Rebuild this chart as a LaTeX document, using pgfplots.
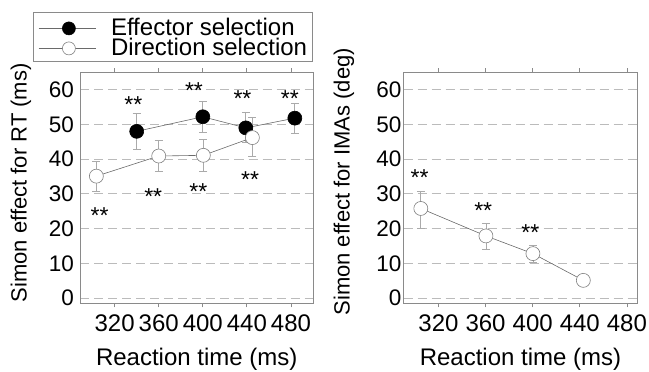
\documentclass[border=0pt]{standalone}
\usepackage{pgfplots}
\pgfplotsset{compat=1.18}
\usepackage{pgfplotstable}
\usepackage{fontspec}
\setmainfont{Liberation Sans}
\newcommand{\xf}{\fontsize{24}{26}\selectfont}
\newcommand{\yf}{\fontsize{22}{26}\selectfont}
\newcommand{\ytf}{\fontsize{22.5}{26}\selectfont}
\newcommand{\legf}{\fontsize{24}{24}\selectfont}
\newcommand{\starf}{\fontsize{23}{24}\selectfont}
\definecolor{gridc}{HTML}{BBBBBB}
\definecolor{framec}{HTML}{8A8A8A}
\definecolor{errc}{HTML}{AAAAAA}
\definecolor{linec}{HTML}{6A6A6A}

\pgfplotstableread{
x y ep em
340 48 5.3 5.2
400 52.2 4.3 4.4
439 49 4.4 4.2
483.5 51.8 4.2 4.3
}\effRT
\pgfplotstableread{
x y ep em
303.4 35.1 4.3 4.3
360 40.9 4.5 4.4
400.5 41.1 4.5 4.6
445 46.2 5.8 5.3
}\dirRT
\pgfplotstableread{
x y ep em
305 25.8 4.9 5.6
360.3 17.9 3.5 4.0
400.2 12.8 2.4 2.4
443 5.1 0 0
}\dirIMA

\pgfplotsset{simon/.style={
  scale only axis, height=231pt,
  ymin=-1.5, ymax=65,
  ytick={0,10,...,60}, xtick={320,360,...,480},
  axis line style={framec, line width=0.8pt},
  ymajorgrids, grid style={gridc, dash pattern=on 9pt off 5pt, line width=0.8pt},
  tick align=outside, xtick style={framec, line width=0.8pt}, ytick style={draw=none},
  major tick length=4pt,
  xticklabel style={font=\xf, yshift=-3.5pt},
  xlabel={Reaction time (ms)},
  xlabel style={font=\xf, at={(axis description cs:0.5,0)}, anchor=base, yshift=-62.7pt},
  ylabel style={font=\yf},
  /pgf/number format/assume math mode=true,
  /pgf/number format/1000 sep={},
  clip=false,
  error bars/y dir=both, error bars/y explicit,
  error bars/error bar style={errc, line width=0.8pt},
  error bars/error mark options={rotate=90, errc, mark size=4pt, line width=0.8pt},
}}

\begin{document}
\begin{tikzpicture}[x=1pt,y=1pt]
\path[use as bounding box] (0,0) rectangle (649,372);

\begin{axis}[simon, at={(80.5pt,68.7pt)}, anchor=south west, width=232.5pt,
  xmin=289, xmax=500,
  yticklabel style={font=\ytf, xshift=1pt},
  ylabel={Simon effect for RT (ms)},
  ylabel style={at={([xshift=-53.8pt, yshift=5pt]axis description cs:0,0.5)}, anchor=base},
  legend style={at={(-0.2043,1.261)}, anchor=north west, draw=framec, line width=0.8pt,
    font=\legf, inner sep=5pt, row sep=1pt,
    nodes={inner sep=0pt, text height=18pt, text depth=1pt},
    /tikz/every odd column/.append style={column sep=15pt}},
  legend cell align=left,
  legend image code/.code={%
    \path (0pt,-1.5pt) -- (57pt,-1.5pt);
    \draw[mark repeat=2,mark phase=2,#1, mark size=6.5pt] plot coordinates {(3.7pt,-1.5pt) (30.2pt,-1.5pt) (56.7pt,-1.5pt)};},
]
\addplot[linec, line width=0.6pt, mark=*, mark size=7pt, mark options={fill=black, draw=black}]
  table[x=x, y=y, y error plus=ep, y error minus=em] {\effRT};
\addlegendentry{Effector selection}
\addplot[linec, line width=0.6pt, mark=*, mark size=7pt, mark options={fill=white, draw=gray}]
  table[x=x, y=y, y error plus=ep, y error minus=em] {\dirRT};
\addlegendentry{Direction selection}
\begin{scope}[every node/.style={font=\starf, anchor=base, yshift=-13.3pt, inner sep=0pt}]
\node at (axis cs:337,57.3) {**};
\node at (axis cs:392,61.3) {**};
\node at (axis cs:436,59.1) {**};
\node at (axis cs:479,59.1) {**};
\node at (axis cs:306.4,25.3) {**};
\node at (axis cs:355,30.8) {**};
\node at (axis cs:396,32.3) {**};
\node at (axis cs:443,35.6) {**};
\end{scope}
\end{axis}

\begin{axis}[simon, at={(403.5pt,68.7pt)}, anchor=south west, width=234pt,
  xmin=290.3, xmax=489,
  yticklabel style={font=\ytf, xshift=5.5pt},
  ylabel={Simon effect for IMAs (deg)},
  ylabel style={at={([xshift=-53.8pt, yshift=6pt]axis description cs:0,0.5)}, anchor=base},
]
\addplot[linec, line width=0.6pt, mark=*, mark size=7pt, mark options={fill=white, draw=gray}]
  table[x=x, y=y, y error plus=ep, y error minus=em] {\dirIMA};
\begin{scope}[every node/.style={font=\starf, anchor=base, yshift=-13.3pt, inner sep=0pt}]
\node at (axis cs:304,36.3) {**};
\node at (axis cs:358,26.7) {**};
\node at (axis cs:398,20.5) {**};
\end{scope}
\end{axis}
\end{tikzpicture}
\end{document}
